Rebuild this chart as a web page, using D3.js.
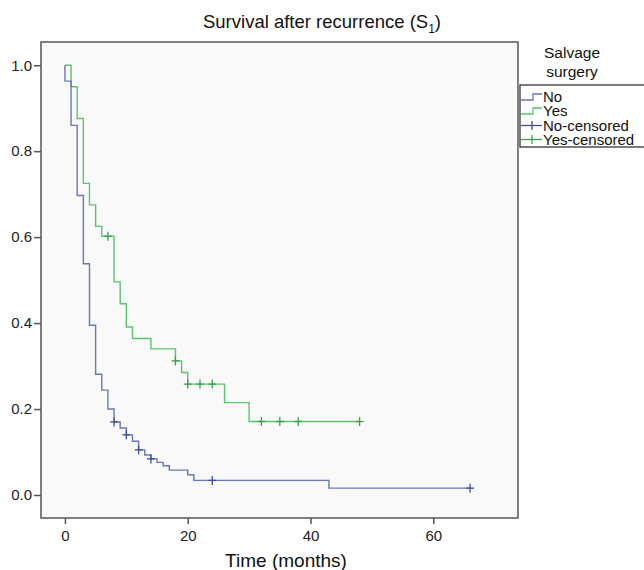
<!DOCTYPE html>
<html><head><meta charset="utf-8">
<script src="https://cdn.jsdelivr.net/npm/d3@7"></script>
<style>body{margin:0;background:#fff}svg{display:block;font-family:"Liberation Sans",Arial,sans-serif}</style>
</head><body><svg id="c" width="644" height="570"></svg>
<script>
// Data
const groups = ["No", "Yes"];
const noTimes = [0, 1, 2, 3, 4, 5, 6, 7, 8, 9, 10, 11, 12, 13, 14, 15, 16, 17, 20, 21, 43];
const noSurv  = [0.963, 0.860, 0.697, 0.538, 0.395, 0.281, 0.244, 0.200, 0.170, 0.156, 0.140, 0.125, 0.105, 0.093, 0.084, 0.076, 0.068, 0.058, 0.047, 0.034, 0.016];
const noEnd = 66;
const noCensored = [8, 10, 12, 14, 24, 66];
const yesTimes = [1, 2, 3, 4, 5, 6, 8, 9, 10, 11, 14, 18, 19, 20, 26, 30];
const yesSurv  = [0.950, 0.876, 0.725, 0.675, 0.625, 0.602, 0.496, 0.445, 0.391, 0.364, 0.340, 0.312, 0.285, 0.258, 0.215, 0.171];
const yesEnd = 48;
const yesCensored = [7, 18, 20, 22, 24, 32, 35, 38, 48];
const xTicks = [0, 20, 40, 60];
const yTicks = [0.0, 0.2, 0.4, 0.6, 0.8, 1.0];
const legendLabels = ["No", "Yes", "No-censored", "Yes-censored"];

const colors = {No: "#6876bc", Yes: "#5cc46e"};
const markColors = {No: "#3d4c9c", Yes: "#3a9e52"};

const svg = d3.select("#c");
const L = 41, R = 518, T = 42, B = 518;
const x = d3.scaleLinear().domain([-3.9, 73.8]).range([L, R]);
const y = d3.scaleLinear().domain([-0.0535, 1.054]).range([B, T]);

svg.append("rect").attr("x", L).attr("y", T).attr("width", R - L).attr("height", B - T)
  .attr("fill", "#f9f9f9").attr("stroke", "none");

function stepPoints(times, surv, end) {
  const pts = [[0, 1]];
  times.forEach((t, i) => pts.push([t, surv[i]]));
  pts.push([end, surv[surv.length - 1]]);
  return pts;
}
function survAt(times, surv, t) {
  let s = 1;
  times.forEach((tt, i) => { if (tt <= t) s = surv[i]; });
  return s;
}

const line = d3.line().x(d => x(d[0])).y(d => y(d[1])).curve(d3.curveStepAfter);

const series = [
  {g: "Yes", pts: stepPoints(yesTimes, yesSurv, yesEnd), cens: yesCensored.map(t => [t, survAt(yesTimes, yesSurv, t)])},
  {g: "No", pts: stepPoints(noTimes, noSurv, noEnd), cens: noCensored.map(t => [t, survAt(noTimes, noSurv, t)])}
];

series.forEach(s => {
  svg.append("path").datum(s.pts).attr("d", line).attr("fill", "none")
    .attr("stroke", colors[s.g]).attr("stroke-width", 1.4);
});
series.forEach(s => {
  const gm = svg.append("g").attr("stroke", markColors[s.g]).attr("stroke-width", 1.3);
  gm.selectAll("line.v").data(s.cens).join("line").attr("class", "v")
    .attr("x1", d => x(d[0])).attr("x2", d => x(d[0]))
    .attr("y1", d => y(d[1]) - 4.5).attr("y2", d => y(d[1]) + 4.5);
  gm.selectAll("line.h").data(s.cens).join("line").attr("class", "h")
    .attr("x1", d => x(d[0]) - 4).attr("x2", d => x(d[0]) + 4)
    .attr("y1", d => y(d[1])).attr("y2", d => y(d[1]));
});

svg.append("rect").attr("x", L).attr("y", T).attr("width", R - L).attr("height", B - T)
  .attr("fill", "none").attr("stroke", "#555").attr("stroke-width", 1.5);

// axes
const xAxis = svg.append("g").attr("transform", `translate(0,${B})`)
  .call(d3.axisBottom(x).tickValues(xTicks).tickSize(6).tickPadding(6).tickFormat(d3.format("d")));
const yAxis = svg.append("g").attr("transform", `translate(${L},0)`)
  .call(d3.axisLeft(y).tickValues(yTicks).tickSize(7).tickPadding(2).tickFormat(d3.format(".1f")));
[xAxis, yAxis].forEach(a => {
  a.select(".domain").remove();
  a.selectAll(".tick line").attr("stroke", "#555").attr("stroke-width", 1.5);
  a.selectAll(".tick text").attr("fill", "#222").style("font-size", "15px")
    .style("font-family", "'Liberation Sans',Arial,sans-serif");
});

// titles
const title = svg.append("text").attr("x", 322).attr("y", 28).attr("text-anchor", "middle")
  .style("font-size", "18.5px").attr("fill", "#111");
title.append("tspan").text("Survival after recurrence (S");
title.append("tspan").attr("dy", 5).style("font-size", "12px").text("1");
title.append("tspan").attr("dy", -5).text(")");

svg.append("text").attr("x", 286).attr("y", 567).attr("text-anchor", "middle")
  .style("font-size", "19px").attr("fill", "#111").text("Time (months)");

// legend
svg.append("text").attr("x", 572).attr("y", 58).attr("text-anchor", "middle")
  .style("font-size", "15.5px").attr("fill", "#111").text("Salvage");
svg.append("text").attr("x", 572).attr("y", 77).attr("text-anchor", "middle")
  .style("font-size", "15.5px").attr("fill", "#111").text("surgery");
svg.append("rect").attr("x", 520).attr("y", 85).attr("width", 140).attr("height", 62)
  .attr("fill", "#fff").attr("stroke", "#333").attr("stroke-width", 1.3);

const legY = [97, 111, 125.5, 139.5];
legendLabels.forEach((lab, i) => {
  const g = i % 2 === 0 ? "No" : "Yes";
  const yy = legY[i];
  if (i < 2) {
    svg.append("path").attr("d", `M521,${yy + 3}H533V${yy - 3}H542`).attr("fill", "none")
      .attr("stroke", colors[g]).attr("stroke-width", 1.3);
  } else {
    svg.append("line").attr("x1", 521).attr("x2", 542).attr("y1", yy).attr("y2", yy)
      .attr("stroke", markColors[g]).attr("stroke-width", 1.3);
    svg.append("line").attr("x1", 532).attr("x2", 532).attr("y1", yy - 4.5).attr("y2", yy + 4.5)
      .attr("stroke", markColors[g]).attr("stroke-width", 1.3);
  }
  svg.append("text").attr("x", 543).attr("y", yy + 5).style("font-size", "15px")
    .attr("fill", "#111").text(lab);
});
</script></body></html>
